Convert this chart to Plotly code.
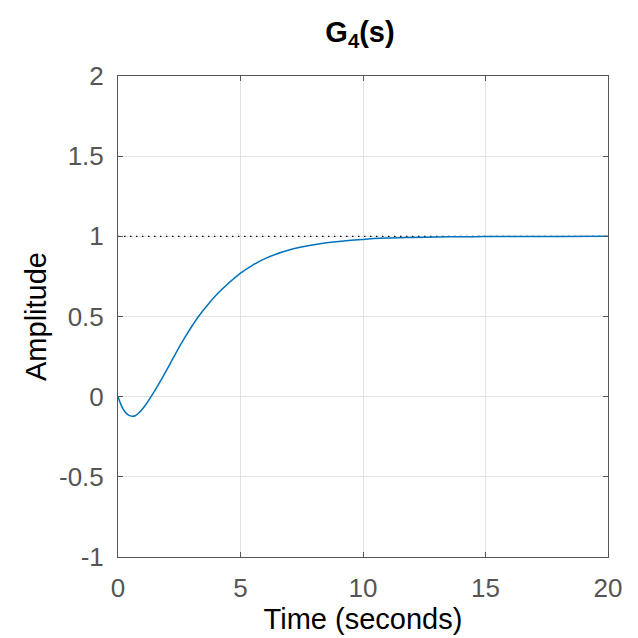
import plotly.graph_objects as go

t = [0, 0.1, 0.2, 0.3, 0.4, 0.5, 0.6, 0.7, 0.8, 0.95, 1.1, 1.35, 1.65, 2.0,
     2.26, 2.7, 3.3, 3.7, 4.16, 5.0, 5.5, 6.07, 7.16, 8.52, 10, 11, 12, 13,
     14, 15, 16, 18, 20]
amp = [0, -0.042, -0.074, -0.097, -0.112, -0.12, -0.122, -0.119, -0.108,
       -0.086, -0.057, 0, 0.075, 0.17, 0.243, 0.362, 0.503, 0.58, 0.657,
       0.77, 0.821, 0.866, 0.922, 0.96, 0.981, 0.989, 0.993, 0.996, 0.9975,
       0.9985, 0.999, 0.9997, 1.0]
ref_t = [0, 20]
ref_y = [1, 1]
xticks = [0, 5, 10, 15, 20]
yticks = [-1, -0.5, 0, 0.5, 1, 1.5, 2]
ytick_labels = ["-1", "-0.5", "0", "0.5", "1", "1.5", "2"]

FONT = "Liberation Sans, Arial, Helvetica"

fig = go.Figure()
fig.add_trace(go.Scatter(x=ref_t, y=ref_y, mode="lines",
                         line=dict(color="#111111", width=1.4, dash="1.5px,4.5px"),
                         hoverinfo="skip", showlegend=False))
fig.add_trace(go.Scatter(x=t, y=amp, mode="lines",
                         line=dict(color="#0072BD", width=1.5, shape="spline", smoothing=1),
                         showlegend=False))

axis_common = dict(showgrid=True, gridcolor="#e3e3e3", gridwidth=1,
                   showline=True, linecolor="#555555", linewidth=1, mirror="ticks",
                   ticks="inside", ticklen=5, tickcolor="#555555",
                   zeroline=False,
                   tickfont=dict(family=FONT, size=26, color="#555555"))

fig.update_layout(
    width=638, height=638,
    margin=dict(l=110, r=38, t=68, b=89),
    paper_bgcolor="white", plot_bgcolor="white",
    title=dict(text="<b>G<sub>4</sub>(s)</b>", x=352 / 638,
               xanchor="center", y=1 - 24 / 638, yanchor="middle",
               font=dict(family=FONT, size=29, color="black")),
    xaxis=dict(range=[0, 20], tickvals=xticks, ticktext=[str(v) for v in xticks],
               ticklabelstandoff=8,
               title=dict(text="Time (seconds)", standoff=5,
                          font=dict(family=FONT, size=29, color="black")),
               **axis_common),
    yaxis=dict(range=[-1, 2], tickvals=yticks, ticktext=ytick_labels,
               ticklabelstandoff=8,
               title=dict(text="Amplitude", standoff=3,
                          font=dict(family=FONT, size=29, color="black")),
               **axis_common),
)

fig.write_html("out.html")
